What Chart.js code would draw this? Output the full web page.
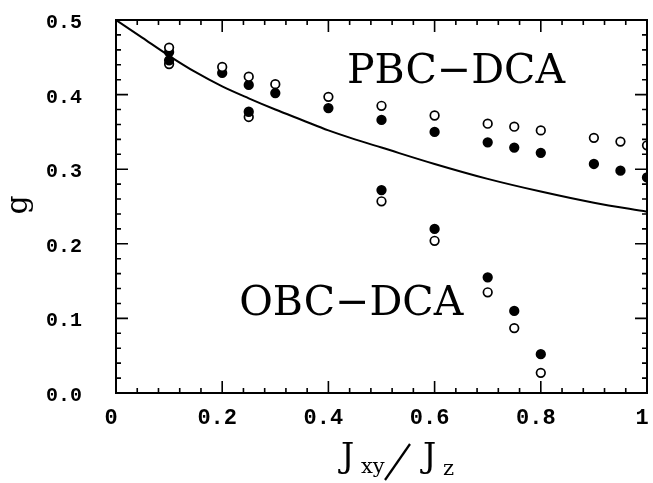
<!DOCTYPE html>
<html lang="en">
<head>
  <meta charset="UTF-8">
  <title>Gap vs Jxy/Jz</title>
  <script src="https://cdn.jsdelivr.net/npm/chart.js"></script>
  <style>
    html, body { margin: 0; padding: 0; background: #fff; }
    #wrap { width: 653px; height: 483px; }
  </style>
</head>
<body>
  <div id="wrap"><canvas id="gapChart" width="653" height="483"></canvas></div>

  <script>
    // tick labels
    const xTickValues = [0, 0.2, 0.4, 0.6, 0.8, 1];
    const xTickLabels = ['0', '0.2', '0.4', '0.6', '0.8', '1'];
    const yTickValues = [0, 0.1, 0.2, 0.3, 0.4, 0.5];
    const yTickLabels = ['0.0', '0.1', '0.2', '0.3', '0.4', '0.5'];

    // exact curve
    const curveX = [0, 0.05, 0.1, 0.15, 0.2, 0.25, 0.3, 0.35, 0.4, 0.45, 0.5, 0.6, 0.7, 0.8, 0.9, 1.0];
    const curveY = [0.5, 0.476, 0.452, 0.430, 0.411, 0.395, 0.380, 0.366, 0.352, 0.340, 0.329, 0.307, 0.287, 0.270, 0.255, 0.243];

    // periodic boundary DCA
    const pbcX = [0.1, 0.2, 0.25, 0.3, 0.4, 0.5, 0.6, 0.7, 0.75, 0.8, 0.9, 0.95, 1.0];
    const pbcOpen = [0.463, 0.437, 0.424, 0.414, 0.397, 0.385, 0.372, 0.361, 0.357, 0.352, 0.342, 0.337, 0.332];
    const pbcFilled = [0.457, 0.429, 0.413, 0.402, 0.382, 0.366, 0.350, 0.336, 0.329, 0.322, 0.307, 0.298, 0.289];

    // open boundary DCA
    const obcX = [0.1, 0.25, 0.5, 0.6, 0.7, 0.75, 0.8];
    const obcFilled = [0.446, 0.377, 0.272, 0.220, 0.155, 0.110, 0.052];
    const obcOpen = [0.441, 0.370, 0.257, 0.204, 0.135, 0.087, 0.027];

    const toPoints = (xs, ys) => xs.map((x, i) => ({ x: x, y: ys[i] }));

    const serif = '"DejaVu Serif", "Liberation Serif", serif';
    const mono = '"Liberation Mono", "DejaVu Sans Mono", monospace';

    function markerSet(xs, ys, filled) {
      return {
        type: 'scatter',
        data: toPoints(xs, ys),
        pointStyle: 'circle',
        pointRadius: 4.3,
        pointHoverRadius: 4.3,
        pointBorderWidth: 1.7,
        pointBorderColor: '#000',
        pointBackgroundColor: filled ? '#000' : '#fff',
        clip: { left: 6, top: 6, right: 1, bottom: 6 }
      };
    }

    // no extra room for overhanging tick labels
    function noOverhang(s) {
      s.paddingTop = 0;
      s.paddingBottom = 0;
      s.paddingLeft = 0;
      s.paddingRight = 0;
    }

    // frame, inward ticks on all four sides, texts
    const framePlugin = {
      id: 'frame',
      afterDatasetsDraw(chart) {
        const { ctx, chartArea: a, scales: { x, y } } = chart;
        ctx.save();
        ctx.strokeStyle = '#000';
        ctx.lineWidth = 2;
        ctx.strokeRect(a.left, a.top, a.right - a.left, a.bottom - a.top);

        ctx.lineWidth = 1.6;
        ctx.beginPath();
        for (let i = 0; i <= 25; i++) {
          const v = i * 0.02;
          const len = i % 5 === 0 ? 12 : 5;
          const py = y.getPixelForValue(v);
          ctx.moveTo(a.left, py); ctx.lineTo(a.left + len, py);
          ctx.moveTo(a.right, py); ctx.lineTo(a.right - len, py);
        }
        for (let i = 0; i <= 25; i++) {
          const v = i * 0.04;
          const len = i % 5 === 0 ? 12 : 5;
          const px = x.getPixelForValue(v);
          ctx.moveTo(px, a.bottom); ctx.lineTo(px, a.bottom - len);
          ctx.moveTo(px, a.top); ctx.lineTo(px, a.top + len);
        }
        ctx.stroke();

        ctx.fillStyle = '#000';
        ctx.textBaseline = 'alphabetic';
        ctx.textAlign = 'left';
        ctx.font = '41px ' + serif;
        ctx.fillText('PBC\u2212DCA', x.getPixelForValue(0.435), y.getPixelForValue(0.4155));
        ctx.fillText('OBC\u2212DCA', x.getPixelForValue(0.232), y.getPixelForValue(0.105));

        // x title: J_xy / J_z
        ctx.font = '33px ' + serif;
        ctx.fillText('J', 341, 467);
        ctx.font = '21px ' + serif;
        ctx.fillText('xy', 361, 473);
        ctx.lineWidth = 2.2;
        ctx.beginPath();
        ctx.moveTo(385, 480);
        ctx.lineTo(410, 444);
        ctx.stroke();
        ctx.font = '33px ' + serif;
        ctx.fillText('J', 423, 467);
        ctx.font = '21px ' + serif;
        ctx.fillText('z', 443, 475);

        // y title
        ctx.save();
        ctx.translate(27, 205);
        ctx.rotate(-Math.PI / 2);
        ctx.textAlign = 'center';
        ctx.textBaseline = 'alphabetic';
        ctx.font = '30px ' + serif;
        ctx.fillText('g', 0, 0);
        ctx.restore();

        ctx.restore();
      }
    };

    new Chart(document.getElementById('gapChart'), {
      type: 'scatter',
      data: {
        datasets: [
          {
            type: 'line',
            data: toPoints(curveX, curveY),
            borderColor: '#000',
            borderWidth: 2,
            pointRadius: 0,
            fill: false,
            cubicInterpolationMode: 'monotone'
          },
          markerSet(pbcX, pbcOpen, false),
          markerSet(pbcX, pbcFilled, true),
          markerSet(obcX, obcFilled, true),
          markerSet(obcX, obcOpen, false)
        ]
      },
      options: {
        responsive: false,
        animation: false,
        events: [],
        layout: { padding: { left: 0, top: 20, right: 4, bottom: 0 } },
        plugins: {
          legend: { display: false },
          tooltip: { enabled: false }
        },
        scales: {
          x: {
            type: 'linear',
            min: 0,
            max: 1,
            grid: { display: false, drawTicks: false },
            border: { display: false },
            afterBuildTicks: s => { s.ticks = xTickValues.map(v => ({ value: v })); },
            afterFit: s => { s.height = 90; noOverhang(s); },
            ticks: {
              color: '#000',
              padding: 12,
              labelOffset: -5,
              maxRotation: 0,
              autoSkip: false,
              font: { family: mono, size: 22, weight: 'bold' },
              callback: (v, i) => xTickLabels[i]
            }
          },
          y: {
            type: 'linear',
            min: 0,
            max: 0.5,
            grid: { display: false, drawTicks: false },
            border: { display: false },
            afterBuildTicks: s => { s.ticks = yTickValues.map(v => ({ value: v })); },
            afterFit: s => { s.width = 116; noOverhang(s); },
            ticks: {
              color: '#000',
              padding: 34,
              labelOffset: 3,
              autoSkip: false,
              font: { family: mono, size: 20, weight: 'bold' },
              callback: (v, i) => yTickLabels[i]
            }
          }
        }
      },
      plugins: [framePlugin]
    });
  </script>
</body>
</html>
